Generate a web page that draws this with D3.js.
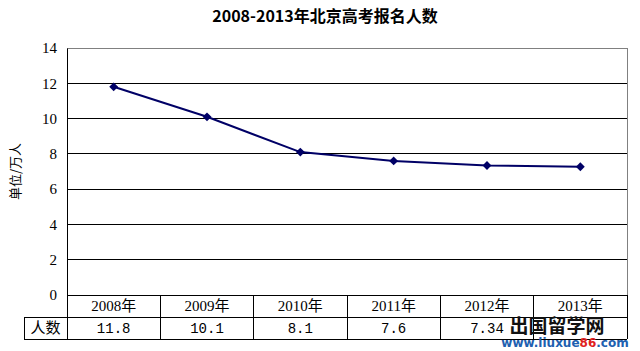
<!DOCTYPE html>
<html>
<head>
<meta charset="utf-8">
<script src="https://cdn.jsdelivr.net/npm/d3@7"></script>
<style>
  body { margin: 0; background: #fff; }
  text { font-family: "Liberation Serif", "Noto Sans CJK SC", serif; }
</style>
</head>
<body>
<div id="container"></div>
<script>
// chart data
const years = ["2008年", "2009年", "2010年", "2011年", "2012年", "2013年"];
const counts = [11.8, 10.1, 8.1, 7.6, 7.34, 7.27];
// table cell labels (the 2013 cell is hidden under the watermark in the source)
const countLabels = ["11.8", "10.1", "8.1", "7.6", "7.34"];
const yTicks = [0, 2, 4, 6, 8, 10, 12, 14];

const width = 640, height = 351;
const margin = { top: 48, right: 13, bottom: 56, left: 67 };
const rowH = 22;

const svg = d3.select("#container").append("svg")
  .attr("width", width).attr("height", height);

// title
svg.append("text")
  .attr("x", 325).attr("y", 22)
  .attr("text-anchor", "middle")
  .style("font-size", "16px").style("font-weight", "bold")
  .style("font-family", "'Noto Sans CJK SC', 'Liberation Serif', serif")
  .text("2008-2013年北京高考报名人数");

const xScale = d3.scaleBand().domain(years)
  .range([margin.left, width - margin.right]);
const yScale = d3.scaleLinear().domain([0, 14])
  .range([height - margin.bottom, margin.top]);

const x0 = margin.left, x1 = width - margin.right;
const yBottom = yScale(0);

// grid lines
svg.append("g")
  .selectAll("line")
  .data(yTicks.filter(d => d > 0))
  .enter().append("line")
  .attr("x1", x0).attr("x2", x1)
  .attr("y1", d => yScale(d)).attr("y2", d => yScale(d))
  .attr("stroke", d => d === 14 ? "#808080" : "#000")
  .attr("stroke-width", 1)
  .attr("shape-rendering", "crispEdges");

// right border (gray) and left axis
svg.append("line")
  .attr("x1", x1).attr("x2", x1)
  .attr("y1", yScale(14)).attr("y2", yBottom)
  .attr("stroke", "#808080").attr("shape-rendering", "crispEdges");

const yAxis = svg.append("g")
  .attr("transform", `translate(${x0},0)`)
  .call(d3.axisLeft(yScale).tickValues(yTicks).tickSize(0).tickPadding(10));
yAxis.select(".domain").attr("stroke", "#000");
yAxis.selectAll("text")
  .style("font-size", "15px")
  .style("font-family", "'Liberation Serif', serif")
  .attr("fill", "#000");

// y label
svg.append("text")
  .attr("transform", `translate(20, ${(yScale(14) + yBottom) / 2}) rotate(-90)`)
  .attr("text-anchor", "middle")
  .style("font-size", "13px")
  .style("font-family", "'Noto Sans CJK SC', sans-serif")
  .text("单位/万人");

// data table
const table = svg.append("g").attr("stroke", "#000").attr("shape-rendering", "crispEdges");
table.append("line").attr("x1", x0).attr("x2", x1).attr("y1", yBottom).attr("y2", yBottom);
table.append("line").attr("x1", 24).attr("x2", x1).attr("y1", yBottom + rowH).attr("y2", yBottom + rowH);
table.append("line").attr("x1", 24).attr("x2", x1).attr("y1", yBottom + 2 * rowH).attr("y2", yBottom + 2 * rowH);
table.append("line").attr("x1", 24).attr("x2", 24).attr("y1", yBottom + rowH).attr("y2", yBottom + 2 * rowH);
table.selectAll(".col")
  .data(years.map(d => xScale(d)).concat([x1]))
  .enter().append("line")
  .attr("x1", d => d).attr("x2", d => d)
  .attr("y1", yBottom).attr("y2", yBottom + 2 * rowH);

svg.selectAll(".yr")
  .data(years).enter().append("text")
  .attr("x", d => xScale(d) + xScale.bandwidth() / 2)
  .attr("y", yBottom + 16)
  .attr("text-anchor", "middle")
  .style("font-size", "15px")
  .style("font-family", "'Liberation Serif', 'Noto Sans CJK SC', serif")
  .text(d => d);

svg.append("text")
  .attr("x", (24 + x0) / 2).attr("y", yBottom + rowH + 16)
  .attr("text-anchor", "middle")
  .style("font-size", "15px")
  .style("font-family", "'Noto Sans CJK SC', sans-serif")
  .text("人数");

svg.selectAll(".val")
  .data(countLabels).enter().append("text")
  .attr("x", (d, i) => xScale(years[i]) + xScale.bandwidth() / 2)
  .attr("y", yBottom + rowH + 16)
  .attr("text-anchor", "middle")
  .style("font-size", "14px")
  .style("font-family", "'Liberation Mono', monospace")
  .text(d => d);

// line + markers
const pts = years.map((y, i) => ({ year: y, value: counts[i] }));
const line = d3.line()
  .x(d => xScale(d.year) + xScale.bandwidth() / 2)
  .y(d => yScale(d.value));

svg.append("path")
  .datum(pts)
  .attr("fill", "none")
  .attr("stroke", "#000066")
  .attr("stroke-width", 2)
  .attr("d", line);

svg.selectAll(".pt")
  .data(pts).enter().append("path")
  .attr("transform", d => `translate(${xScale(d.year) + xScale.bandwidth() / 2},${yScale(d.value)})`)
  .attr("d", d3.symbol(d3.symbolDiamond2, 50))
  .attr("fill", "#000066");

// watermark
svg.append("text")
  .attr("x", 557).attr("y", 333)
  .attr("text-anchor", "middle")
  .style("font-size", "19px").style("font-weight", "bold")
  .style("font-family", "'Noto Sans CJK SC', sans-serif")
  .attr("fill", "#111")
  .text("出国留学网");
const url = svg.append("text")
  .attr("x", 565).attr("y", 347)
  .attr("text-anchor", "middle")
  .style("font-size", "12px").style("font-weight", "bold")
  .style("font-family", "'DejaVu Sans', sans-serif")
  .attr("fill", "#2060b0");
url.append("tspan").text("www.liuxue");
url.append("tspan").attr("fill", "#e02020").text("86");
url.append("tspan").text(".com");
</script>
</body>
</html>
